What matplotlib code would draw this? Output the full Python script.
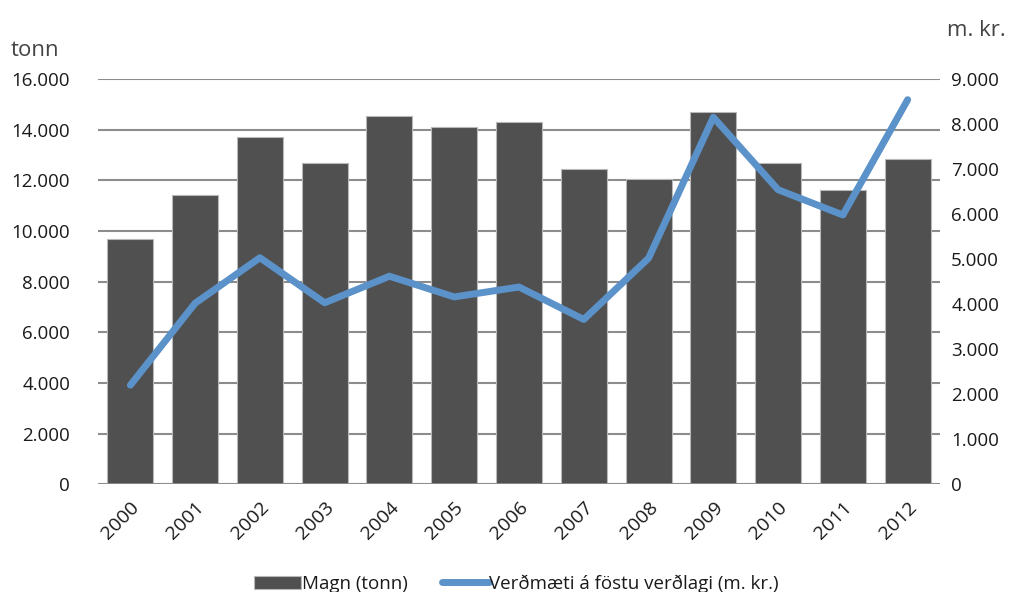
import numpy as np
import matplotlib
matplotlib.use("Agg")
import matplotlib.pyplot as plt
from matplotlib.ticker import FuncFormatter

plt.rcParams['font.family'] = ['Open Sans', 'DejaVu Sans']

ar = ['2000', '2001', '2002', '2003', '2004', '2005', '2006',
      '2007', '2008', '2009', '2010', '2011', '2012']
magn = [9700, 11400, 13700, 12700, 14550, 14100, 14300,
        12450, 12050, 14700, 12700, 11600, 12850]
verdmaeti = [2200, 4020, 5030, 4030, 4620, 4160, 4380,
             3660, 5020, 8150, 6540, 5980, 8540]

def punktur(v, pos):
    return f"{int(v):,}".replace(",", ".")

fig = plt.figure(figsize=(10.13, 5.92), dpi=100)
ax = fig.add_axes([0.0967, 0.182, 0.8313, 0.6846])
ax2 = ax.twinx()

x = np.arange(len(ar))
ax.bar(x, magn, width=0.71, color='#505050', edgecolor='#b8b8b8',
       linewidth=0.8, zorder=2, label='Magn (tonn)')
ax2.plot(x, verdmaeti, color='#5b92c9', linewidth=5,
         solid_capstyle='round', solid_joinstyle='round',
         label='Verðmæti á föstu verðlagi (m. kr.)')

ax.set_xlim(-0.5, len(ar) - 0.5)
ax.set_ylim(0, 16000)
ax.set_yticks(np.arange(0, 16001, 2000))
ax2.set_ylim(0, 9000)
ax2.set_yticks(np.arange(0, 9001, 1000))
ax.yaxis.set_major_formatter(FuncFormatter(punktur))
ax2.yaxis.set_major_formatter(FuncFormatter(punktur))

ax.grid(axis='y', color='#8c8c8c', linewidth=1.5, zorder=0)
ax.set_axisbelow(True)
for a in (ax, ax2):
    for s in ('top', 'left', 'right', 'bottom'):
        a.spines[s].set_visible(False)
    a.tick_params(length=0, labelsize=13.5, colors='#1a1a1a')
ax.axhline(0, color='#8c8c8c', linewidth=2, zorder=3)

ax.set_xticks(x)
ax.set_xticklabels(ar, rotation=45, ha='right', rotation_mode='anchor',
                   fontsize=14)
ax.tick_params(axis='x', pad=10)
ax.tick_params(axis='y', pad=20)
ax2.tick_params(axis='y', pad=8)

fig.text(0.01, 0.905, 'tonn', fontsize=16, color='#444444')
fig.text(0.993, 0.94, 'm. kr.', fontsize=16, color='#444444', ha='right')

h1, l1 = ax.get_legend_handles_labels()
h2, l2 = ax2.get_legend_handles_labels()
fig.legend(h1 + h2, l1 + l2, loc='lower center', ncol=2, frameon=False,
           fontsize=13.5, bbox_to_anchor=(0.51, -0.03), handlelength=2.5,
           handletextpad=0.05, columnspacing=1.8, labelcolor='#1a1a1a')

fig.savefig('out.png', dpi=100)
